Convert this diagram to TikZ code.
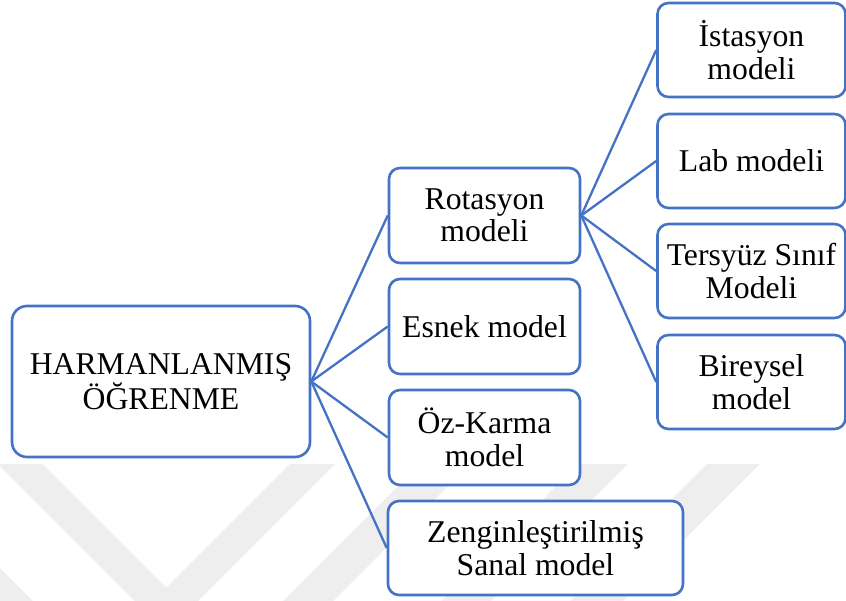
\documentclass[tikz,border=0pt]{standalone}
\usepackage{fontspec}
\setmainfont{Liberation Serif}
\definecolor{bx}{HTML}{4472C4}
\definecolor{wm}{HTML}{EEEEEE}
\begin{document}
\begin{tikzpicture}[x=1pt,y=-1pt,
  box/.style={draw=bx, line width=2.6pt, fill=white, rounded corners=11pt, align=center,
    inner sep=0pt, font=\fontsize{31.7}{32.5}\selectfont, minimum width=191pt, minimum height=95pt},
  link/.style={draw=bx, line width=2.3pt}]
\useasboundingbox (0,0) rectangle (846,601);
% faint background watermark
\begin{scope}
\clip (0,464) rectangle (846,601);
\fill[wm] (-2,464) -- (43,464) -- (166.5,587.5) -- (290,464) -- (335,464) -- (166.5,632.5) -- cycle;
\fill[wm] (0,568) -- (40,608) -- (0,608) -- cycle;
\fill[wm] (420,464) -- (470,464) -- (333,601) -- (283,601) -- cycle;
\fill[wm] (578,464) -- (628,464) -- (491,601) -- (441,601) -- cycle;
\fill[wm] (707,464) -- (760,464) -- (623,601) -- (570,601) -- cycle;
\end{scope}
% nodes
\node[box, minimum width=298pt, minimum height=151pt, rounded corners=15pt] (root) at (161,381.5) {HARMANLANMIŞ\\ÖĞRENME};
\node[box] (rot) at (484.5,215.5) {Rotasyon\\modeli};
\node[box] (esn) at (484.5,326.5) {Esnek model};
\node[box] (oz) at (484.5,437.5) {Öz-Karma\\model};
\node[box, minimum width=295pt, minimum height=94pt] (zen) at (535.5,548) {Zenginleştirilmiş\\Sanal model};
\node[box, minimum width=188pt, minimum height=94pt] (ist) at (751.5,50) {İstasyon\\modeli};
\node[box, minimum width=188pt, minimum height=94pt] (lab) at (751.5,161) {Lab modeli};
\node[box, minimum width=188pt, minimum height=94pt] (ter) at (751.5,271) {Tersyüz Sınıf\\Modeli};
\node[box, minimum width=188pt, minimum height=94pt] (bir) at (751.5,382) {Bireysel\\model};
% connectors
\draw[link] (root.east) -- (rot.west);
\draw[link] (root.east) -- (esn.west);
\draw[link] (root.east) -- (oz.west);
\draw[link] (root.east) -- (zen.west);
\draw[link] (rot.east) -- (ist.west);
\draw[link] (rot.east) -- (lab.west);
\draw[link] (rot.east) -- (ter.west);
\draw[link] (rot.east) -- (bir.west);
\end{tikzpicture}
\end{document}
